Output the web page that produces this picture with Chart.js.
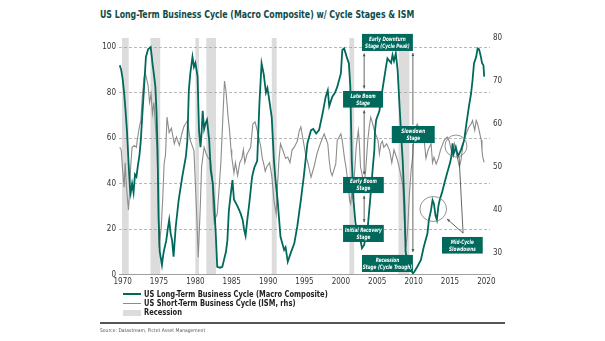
<!DOCTYPE html>
<html>
<head>
<meta charset="utf-8">
<script src="https://cdn.jsdelivr.net/npm/chart.js@4.4.1/dist/chart.umd.min.js"></script>
<style>
  html, body { margin: 0; padding: 0; background: #fff; }
  #wrap { position: relative; width: 605px; height: 341px; overflow: hidden;
          font-family: 'Liberation Sans Narrow', 'DejaVu Sans Condensed', sans-serif; }
  #chart { position: absolute; left: 0; top: 0; }
  .title { position: absolute; left: 100px; top: 8px; font-size: 11px; font-weight: bold;
           color: #0e4b48; white-space: nowrap; transform: scaleX(0.79); transform-origin: left top; }
  .legend { position: absolute; left: 123px; top: 289.5px; font-size: 9px; font-weight: bold; color: #222; }
  .legend div { height: 9.3px; line-height: 9.3px; display: flex; align-items: center; white-space: nowrap; }
  .legend .txt { display: inline-block; transform: scaleX(0.83); transform-origin: left center; }
  .swatch { display: inline-block; width: 18px; margin-right: 3px; }
  .rule { position: absolute; left: 100px; top: 322px; width: 405px; height: 2px; background: #555; }
  .source { position: absolute; left: 100px; top: 327px; font-size: 5px; color: #555; white-space: nowrap; }
</style>
</head>
<body>
<div id="wrap">
  <div class="title">US Long-Term Business Cycle (Macro Composite) w/ Cycle Stages &amp; ISM</div>
  <canvas id="chart" width="605" height="341"></canvas>
  <div class="legend">
    <div><span class="swatch" style="height:2px;background:#00695c"></span><span class="txt">US Long-Term Business Cycle (Macro Composite)</span></div>
    <div><span class="swatch" style="height:1.5px;background:#8c8c8c"></span><span class="txt">US Short-Term Business Cycle (ISM, rhs)</span></div>
    <div><span class="swatch" style="height:6px;background:#dcdcdc"></span><span class="txt">Recession</span></div>
  </div>
  <div class="rule"></div>
  <div class="source">Source: Datastream, Pictet Asset Management</div>
</div>
<script>
// --- data ---
const ltYears = [1969.6,1969.8,1970.0,1970.2,1970.4,1970.6,1970.8,1971.0,1971.1,1971.3,1971.5,1971.7,1971.9,1972.1,1972.3,1972.5,1972.7,1972.9,1973.2,1973.5,1973.85,1974.0,1974.1,1974.3,1974.5,1974.65,1974.8,1974.95,1975.1,1975.4,1975.55,1975.7,1976.0,1976.2,1976.4,1976.6,1976.8,1977.0,1977.3,1977.7,1978.2,1978.7,1978.9,1979.1,1979.3,1979.6,1979.8,1980.0,1980.3,1980.5,1980.7,1980.85,1981.0,1981.2,1981.4,1981.6,1981.9,1982.1,1982.4,1982.6,1982.8,1983.0,1983.4,1983.7,1983.9,1984.2,1984.4,1984.6,1984.85,1985.1,1985.3,1985.8,1986.2,1986.5,1986.7,1986.9,1987.1,1987.4,1987.8,1988.1,1988.5,1988.8,1989.1,1989.4,1989.7,1989.9,1990.1,1990.5,1990.8,1991.0,1991.3,1991.7,1992.2,1992.4,1992.7,1993.1,1993.6,1994.0,1994.5,1994.9,1995.2,1995.4,1995.9,1996.2,1996.6,1997.0,1997.5,1997.9,1998.2,1998.4,1998.8,1999.2,1999.5,2000.0,2000.2,2000.45,2000.8,2001.1,2001.3,2001.5,2001.75,2002.0,2002.25,2002.7,2002.9,2003.2,2003.4,2003.7,2004.1,2004.4,2004.6,2004.7,2004.85,2005.3,2005.7,2006.2,2006.4,2006.9,2007.1,2007.3,2007.55,2007.8,2008.0,2008.25,2008.5,2008.75,2008.9,2009.2,2009.6,2009.9,2010.1,2010.5,2011.0,2011.4,2011.9,2012.1,2012.4,2012.6,2012.8,2013.0,2013.2,2013.4,2013.6,2013.9,2014.3,2014.6,2015.0,2015.2,2015.35,2015.5,2015.8,2016.1,2016.5,2016.95,2017.2,2017.6,2017.9,2018.1,2018.3,2018.6,2018.8,2019.0,2019.25,2019.4,2019.6,2019.7];
const ltValues = [92,90,86,80,72,63,50,38,35.7,40,36,44,43,48,52,59,70,80,95.7,99,100,96,92.8,88,82.5,72,55,25,10,4.2,8,10.8,15,20,24,18,15,7.8,21,32.7,43,52,59,81,88.4,95.7,91.3,93,87,63.5,56,62,72,64,66.5,68,59,46,40,30,18,3.4,3,3.4,6,10,15,28,35,41.5,33,30,27,24,19.6,17,23,31,43,47,50,75,92.8,88,80,82,78,69,50,42,32.7,16.6,10.8,12,5.6,9.4,13.7,21,32.7,43,51.8,57.7,63.5,64,62,63.5,71,78,81,74,78,80,82.5,88.4,98.7,99.4,95.7,92.8,82.5,50,32,23,18,15,11.6,13,16.6,21,35.7,47.4,54.7,63.5,68,72,81,91.3,95,93,96.5,93.9,97.2,90,78,63.5,50,30,10,5,2,0.5,1.2,3.4,6.4,12.2,18,24,28.4,32.7,31,26,24,30,33,36,41,44.5,49,52,57.7,53,56,52,54.7,59,65,73.8,79.6,85.5,92.8,95.7,99.4,99,95.7,93,92,87];

const ismYears = [1969.6,1969.8,1970.0,1970.2,1970.35,1970.5,1970.8,1970.95,1971.1,1971.3,1971.6,1971.9,1972.0,1972.3,1972.5,1972.7,1972.95,1973.1,1973.5,1973.7,1973.9,1974.1,1974.3,1974.5,1974.7,1974.8,1974.9,1975.0,1975.3,1975.5,1975.7,1975.9,1976.1,1976.4,1976.7,1977.1,1977.4,1977.8,1978.1,1978.4,1978.9,1979.1,1979.3,1979.8,1979.9,1980.0,1980.2,1980.4,1980.7,1980.85,1981.2,1981.5,1981.8,1982.1,1982.3,1982.45,1982.6,1982.8,1983.0,1983.3,1983.5,1983.8,1984.0,1984.2,1984.5,1984.7,1984.9,1985.0,1985.3,1985.5,1985.8,1986.1,1986.4,1986.6,1986.8,1987.1,1987.6,1987.9,1988.2,1988.5,1988.8,1989.0,1989.2,1989.4,1989.6,1989.8,1990.2,1990.5,1990.8,1991.1,1991.3,1991.5,1991.7,1992.0,1992.4,1992.7,1993.0,1993.3,1993.6,1994.0,1994.3,1994.5,1994.9,1995.2,1995.4,1995.9,1996.3,1996.7,1997.0,1997.3,1997.7,1998.2,1998.4,1998.6,1998.8,1999.3,1999.5,2000.0,2000.2,2000.5,2000.7,2001.0,2001.2,2001.35,2001.5,2001.6,2001.9,2002.1,2002.4,2002.55,2002.7,2002.95,2003.2,2003.4,2003.7,2003.9,2004.1,2004.3,2004.6,2005.1,2005.3,2005.5,2005.7,2005.9,2006.3,2006.7,2007.0,2007.3,2007.6,2007.8,2008.0,2008.2,2008.5,2008.7,2008.85,2009.0,2009.2,2009.4,2009.65,2009.9,2010.0,2010.1,2010.5,2010.9,2011.4,2011.7,2012.0,2012.4,2012.6,2012.8,2013.1,2013.4,2013.7,2014.2,2014.6,2014.9,2015.3,2015.6,2015.8,2016.0,2016.3,2016.5,2016.7,2016.9,2017.4,2017.6,2017.9,2018.1,2018.4,2018.6,2018.8,2019.0,2019.3,2019.4,2019.5,2019.7];
const ismValues = [54.6,54,49.2,45.3,51,46,40,44,50,54.6,55,54.6,56.2,59.3,60.8,66.2,70.9,72,69,65,67,62.4,65,60,54.6,49.2,38.3,31.3,36,42.2,50.7,53,61.6,58,59,55.4,57,55,57.5,59.3,60.8,58.5,56.2,53.8,50,46,38,29,42,50,54.6,53,52,51.5,48,39.9,37,38.3,39,46,51,62.4,70,67.8,61.6,58.5,54,52.3,48.6,51,48,51,52,54,51,53,54.6,60,60.5,58.5,56.2,54.6,52,50.7,49,50,51,48,42.2,39.1,46,52,55.4,54,52,52.3,51,54,54.6,56,58.5,59.3,55.4,52.5,51.5,47.6,50,53,54.6,56,57.7,55.4,51.5,48.9,48,50.7,56.2,57.7,56,52,50,46,42.2,41.4,44,43,49.2,54.6,58.5,55.4,50,48,46,49,56.2,59.3,61.6,60.5,58.5,56.2,53,55.4,56,54.6,55.4,53.8,51,54,52.5,51.5,50,48.4,46,38.3,33.7,32.1,36,43,49.2,53,56.2,58.5,60,58.5,57,52,54,55.4,51,52.3,50.7,52,54,56.2,57,56,53,55.4,53.8,52.3,50,51.5,54,56.2,58.5,59.3,60,60.8,58.5,60.8,60,58.5,56.2,53.8,52.3,51.1];

const recessionStarts = [1969.92, 1973.83, 1980.0, 1981.5, 1990.5, 2001.17, 2007.92];
const recessionEnds   = [1970.83, 1975.17, 1980.5, 1982.83, 1991.17, 2001.83, 2009.42];

const xTicks = [1970, 1975, 1980, 1985, 1990, 1995, 2000, 2005, 2010, 2015, 2020];
const leftTicks = [0, 20, 40, 60, 80, 100];
const rightTicks = [30, 40, 50, 60, 70, 80];

// --- annotation layout (in data units: years / left axis) ---
const TEAL = '#00695c';
const stageBoxes = [
  { text: ['Early Downturn', 'Stage (Cycle Peak)'], x1: 2002.9, x2: 2009.9, y1: 105.8, y2: 98.3 },
  { text: ['Late Boom', 'Stage'], x1: 2000.3, x2: 2005.8, y1: 80.7, y2: 73.4 },
  { text: ['Slowdown', 'Stage'], x1: 2007.0, x2: 2012.9, y1: 65.3, y2: 57.8 },
  { text: ['Early Boom', 'Stage'], x1: 2000.3, x2: 2005.9, y1: 42.9, y2: 35.8 },
  { text: ['Initial Recovery', 'Stage'], x1: 2000.3, x2: 2005.9, y1: 21.8, y2: 14.3 },
  { text: ['Recession', 'Stage (Cycle Trough)'], x1: 2002.9, x2: 2009.9, y1: 8.6, y2: 1.1 },
  { text: ['Mid-Cycle', 'Slowdowns'], x1: 2013.9, x2: 2019.5, y1: 16.5, y2: 9.2 }
];
const arrows = [
  { x1: 2003.2, y1: 97.2, x2: 2003.2, y2: 81.8, a: true, b: true },
  { x1: 2003.2, y1: 72.2, x2: 2003.2, y2: 44.0, a: true, b: true },
  { x1: 2003.2, y1: 34.6, x2: 2003.2, y2: 23.0, a: true, b: true },
  { x1: 2009.9, y1: 65.8, x2: 2009.9, y2: 97.4, a: false, b: true },
  { x1: 2009.9, y1: 57.4, x2: 2009.9, y2: 9.9, a: false, b: true },
  { x1: 2016.8, y1: 18.2, x2: 2014.6, y2: 24.4, a: false, b: true },
  { x1: 2016.8, y1: 18.2, x2: 2016.25, y2: 51.7, a: false, b: false }
];
const rings = [
  { x: 2012.7, y: 28.8, rx: 1.83, ry: 5.5 },
  { x: 2015.82, y: 56.5, rx: 1.51, ry: 4.84 }
];

const FONT = "'Liberation Sans Narrow', 'DejaVu Sans Condensed', sans-serif";
Chart.defaults.font.family = FONT;
Chart.defaults.color = '#333';

const recessionPlugin = {
  id: 'recessions',
  beforeDraw(chart) {
    const { ctx, chartArea, scales } = chart;
    ctx.save();
    ctx.fillStyle = '#dcdcdc';
    recessionStarts.forEach((s, i) => {
      const l = scales.x.getPixelForValue(s);
      const r = scales.x.getPixelForValue(recessionEnds[i]);
      ctx.fillRect(l, chartArea.top, r - l, chartArea.bottom - chartArea.top);
    });
    ctx.restore();
  }
};

function drawHead(ctx, x, y, ang) {
  const s = 3.2;
  ctx.beginPath();
  ctx.moveTo(x, y);
  ctx.lineTo(x - s * Math.cos(ang - 0.45), y - s * Math.sin(ang - 0.45));
  ctx.lineTo(x - s * Math.cos(ang + 0.45), y - s * Math.sin(ang + 0.45));
  ctx.closePath();
  ctx.fill();
}

// narrow text: squeeze horizontally round its centre
function squeezeText(ctx, str, x, y, sx) {
  ctx.save();
  ctx.translate(x, y);
  ctx.scale(sx, 1);
  ctx.fillText(str, 0, 0);
  ctx.restore();
}

const annotationPlugin = {
  id: 'stages',
  afterDraw(chart) {
    const { ctx, scales } = chart;
    const X = v => scales.x.getPixelForValue(v);
    const Y = v => scales.y.getPixelForValue(v);
    ctx.save();
    // rings
    ctx.strokeStyle = '#777';
    ctx.lineWidth = 0.8;
    rings.forEach(c => {
      const cx = X(c.x), cy = Y(c.y);
      const rx = Math.abs(X(c.x + c.rx) - cx), ry = Math.abs(Y(c.y + c.ry) - cy);
      ctx.beginPath();
      ctx.ellipse(cx, cy, rx, ry, 0, 0, Math.PI * 2);
      ctx.stroke();
    });
    // arrows
    ctx.strokeStyle = '#555';
    ctx.fillStyle = '#555';
    ctx.lineWidth = 0.9;
    arrows.forEach(a => {
      const x1 = X(a.x1), y1 = Y(a.y1), x2 = X(a.x2), y2 = Y(a.y2);
      ctx.beginPath();
      ctx.moveTo(x1, y1);
      ctx.lineTo(x2, y2);
      ctx.stroke();
      const ang = Math.atan2(y2 - y1, x2 - x1);
      if (a.b) drawHead(ctx, x2, y2, ang);
      if (a.a) drawHead(ctx, x1, y1, ang + Math.PI);
    });
    // boxes
    stageBoxes.forEach(b => {
      const l = X(b.x1), r = X(b.x2), t = Y(b.y1), bt = Y(b.y2);
      ctx.fillStyle = TEAL;
      ctx.fillRect(l, t, r - l, bt - t);
      ctx.fillStyle = '#fff';
      ctx.font = 'italic bold 6px ' + FONT;
      ctx.textAlign = 'center';
      ctx.textBaseline = 'middle';
      const h = bt - t;
      squeezeText(ctx, b.text[0], (l + r) / 2, t + h * 0.3, 0.78);
      squeezeText(ctx, b.text[1], (l + r) / 2, t + h * 0.73, 0.78);
    });
    ctx.restore();
  }
};

const ltData = ltYears.map((x, i) => ({ x, y: ltValues[i] }));
const ismData = ismYears.map((x, i) => ({ x, y: ismValues[i] }));

new Chart(document.getElementById('chart'), {
  type: 'line',
  data: {
    datasets: [
      {
        label: 'US Long-Term Business Cycle (Macro Composite)',
        data: ltData,
        yAxisID: 'y',
        borderColor: TEAL,
        borderWidth: 1.8,
        pointRadius: 0,
        tension: 0,
        order: 0
      },
      {
        label: 'US Short-Term Business Cycle (ISM, rhs)',
        data: ismData,
        yAxisID: 'y1',
        borderColor: '#8c8c8c',
        borderWidth: 1.1,
        pointRadius: 0,
        tension: 0,
        order: 1
      }
    ]
  },
  options: {
    responsive: false,
    animation: false,
    devicePixelRatio: 1,
    layout: { padding: { left: 85, right: 95, top: 38, bottom: 54.5 } },
    plugins: { legend: { display: false }, title: { display: false }, tooltip: { enabled: false } },
    scales: {
      x: {
        type: 'linear',
        min: 1969.5,
        max: 2020.5,
        afterBuildTicks: s => { s.ticks = xTicks.map(v => ({ value: v })); },
        afterFit: s => { s.height = 12; },
        ticks: { font: { size: 8 }, color: '#333', padding: 3, maxRotation: 0, autoSkip: false, callback: v => String(v) },
        grid: { display: false, drawTicks: false },
        border: { display: true, color: '#888', width: 0.8 }
      },
      y: {
        position: 'left',
        min: 0,
        max: 104,
        afterBuildTicks: s => { s.ticks = leftTicks.map(v => ({ value: v })); },
        afterFit: s => { s.width = 34; },
        ticks: { font: { size: 8 }, color: '#333', padding: 3 },
        grid: { color: c => (c.tick && c.tick.value === 0 ? 'rgba(0,0,0,0)' : '#9a9a9a'), lineWidth: 0.7, drawTicks: false },
        border: { display: false, dash: [3, 2] }
      },
      y1: {
        position: 'right',
        min: 25,
        max: 80,
        afterBuildTicks: s => { s.ticks = rightTicks.map(v => ({ value: v })); },
        afterFit: s => { s.width = 20; },
        ticks: { font: { size: 8 }, color: '#333', padding: 3 },
        grid: { display: false, drawTicks: false },
        border: { display: false }
      }
    }
  },
  plugins: [recessionPlugin, annotationPlugin]
});
</script>
</body>
</html>
